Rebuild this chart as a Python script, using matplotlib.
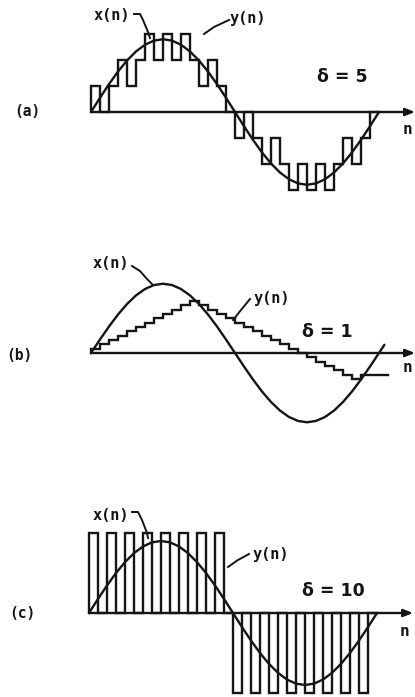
import numpy as np
import matplotlib
matplotlib.use("Agg")
import matplotlib.pyplot as plt

# ---- signals (sample index n, amplitude in arbitrary units) ----
# (a) delta = 5
x_a = [0, 2.73, 5.36, 7.78, 9.90, 11.64, 12.93, 13.73, 14.0, 13.73, 12.93,
       11.64, 9.90, 7.78, 5.36, 2.73, 0, -2.73, -5.36, -7.78, -9.90, -11.64,
       -12.93, -13.73, -14.0, -13.73, -12.93, -11.64, -9.90, -7.78, -5.36,
       -2.73, 0]
y_a = [5, 0, 5, 10, 5, 10, 15, 10, 15, 10, 15, 10, 5, 10, 5, 0,
       -5, 0, -5, -10, -5, -10, -15, -10, -15, -10, -15, -10, -5, -10, -5, 0]

# (b) delta = 1 (slope overload)
n_xb = [0, 1, 2, 3, 4, 5, 6, 7, 8, 9, 10, 11, 12, 13, 14, 15, 16, 17, 18, 19,
        20, 21, 22, 23, 24, 25, 26, 27, 28, 29, 30, 31, 32, 32.6]
x_b = [0, 3.12, 6.12, 8.89, 11.31, 13.30, 14.78, 15.69, 16.0, 15.69, 14.78,
       13.30, 11.31, 8.89, 6.12, 3.12, 0, -3.12, -6.12, -8.89, -11.31, -13.30,
       -14.78, -15.69, -16.0, -15.69, -14.78, -13.30, -11.31, -8.89, -6.12,
       -3.12, 0, 1.9]
y_b = [1, 2, 3, 4, 5, 6, 7, 8, 9, 10, 11, 12,
       11, 10, 9, 8, 7, 6, 5, 4, 3, 2, 1, 0, -1, -2, -3, -4, -5, -6,
       -5, -5, -5]

# (c) delta = 10 (granular noise)
x_c = [0, 1.76, 3.44, 5.00, 6.36, 7.48, 8.32, 8.83, 9.0, 8.83, 8.32, 7.48,
       6.36, 5.00, 3.44, 1.76, 0, -1.76, -3.44, -5.00, -6.36, -7.48, -8.32,
       -8.83, -9.0, -8.83, -8.32, -7.48, -6.36, -5.00, -3.44, -1.76, 0]
y_c = [10, 0, 10, 0, 10, 0, 10, 0, 10, 0, 10, 0, 10, 0, 10, 0,
       -10, 0, -10, 0, -10, 0, -10, 0, -10, 0, -10, 0, -10, 0, -10, 0]

panel_tags = ["(a)", "(b)", "(c)"]
delta_texts = ["\u03b4 = 5", "\u03b4 = 1", "\u03b4 = 10"]

# ---- figure ----
W, H = 415, 697
DPI = 100
fig = plt.figure(figsize=(W / DPI, H / DPI), dpi=DPI, facecolor="white")
INK = "#151515"
LW = 1.7


def panel_axes(top, bottom, axis_row, n0_col, col_per_n, row_per_unit):
    ax = fig.add_axes([0, 1 - bottom / H, 1, (bottom - top) / H])
    ax.set_xlim(-n0_col / col_per_n, (W - n0_col) / col_per_n)
    ax.set_ylim((axis_row - bottom) / row_per_unit,
                (axis_row - top) / row_per_unit)
    ax.axis("off")
    return ax


def draw_panel(ax, n_x, x, y, tip_col, n0_col, col_per_n):
    # time axis with arrow
    ax.annotate("", xy=((tip_col - n0_col) / col_per_n, 0), xytext=(0, 0),
                arrowprops=dict(arrowstyle="-|>,head_length=0.55,head_width=0.22",
                                color=INK, lw=LW, shrinkA=0, shrinkB=0))
    # input signal
    ax.plot(n_x, x, color=INK, lw=LW, solid_joinstyle="round",
            solid_capstyle="round")
    # staircase approximation
    ns = np.concatenate([[0], np.arange(len(y) + 1)])
    ys = np.concatenate([[0], y, [y[-1]]])
    ax.step(ns, ys, where="post", color=INK, lw=LW, solid_joinstyle="miter")


ax_a = panel_axes(0, 232, 112, 91, 9.0, 5.2)
draw_panel(ax_a, np.arange(len(x_a)), x_a, y_a, 415, 91, 9.0)

ax_b = panel_axes(232, 464, 353, 91, 9.0, 4.33)
draw_panel(ax_b, n_xb, x_b, y_b, 415, 91, 9.0)

ax_c = panel_axes(464, 697, 613, 89, 9.0, 8.0)
draw_panel(ax_c, np.arange(len(x_c)), x_c, y_c, 413, 89, 9.0)

# ---- annotations in pixel space ----
ov = fig.add_axes([0, 0, 1, 1])
ov.set_xlim(0, W)
ov.set_ylim(H, 0)
ov.axis("off")

MONO = "DejaVu Sans Mono"
SANS = "DejaVu Sans"

tag_pos = [(27, 112), (19, 356), (22, 613)]
for t, (px, py) in zip(panel_tags, tag_pos):
    ov.text(px, py, t, family=MONO, fontsize=10.5, fontweight="bold",
            ha="center", va="center", color=INK)

xn_pos = [(112, 16), (111, 263), (111, 516)]
yn_pos = [(248, 18), (272, 299), (271, 554)]
for (px, py) in xn_pos:
    ov.text(px, py, "x(n)", family=MONO, fontsize=11, fontweight="bold",
            ha="center", va="center", color=INK)
for (px, py) in yn_pos:
    ov.text(px, py, "y(n)", family=MONO, fontsize=11, fontweight="bold",
            ha="center", va="center", color=INK)

delta_pos = [(342, 77), (327, 332), (333, 591)]
for t, (px, py) in zip(delta_texts, delta_pos):
    ov.text(px, py, t, family=SANS, fontsize=12.5, fontweight="bold",
            ha="center", va="center", color=INK)

n_pos = [(403, 129), (403, 367), (400, 632)]
for (px, py) in n_pos:
    ov.text(px, py, "n", family=MONO, fontsize=11.5, fontweight="bold",
            ha="left", va="center", color=INK)

leaders = [
    [(134, 14), (140, 14), (143, 20), (148, 32), (150, 38)],
    [(229, 20), (214, 27), (204, 34)],
    [(132, 266), (140, 271), (147, 279), (152, 284)],
    [(250, 299), (241, 310), (233, 320)],
    [(132, 512), (138, 512), (142, 520), (147, 533), (148, 538)],
    [(249, 554), (238, 560), (228, 567)],
]
for pts in leaders:
    px, py = zip(*pts)
    ov.plot(px, py, color=INK, lw=1.4, solid_joinstyle="round")

fig.savefig("out.png", dpi=DPI, facecolor="white")
